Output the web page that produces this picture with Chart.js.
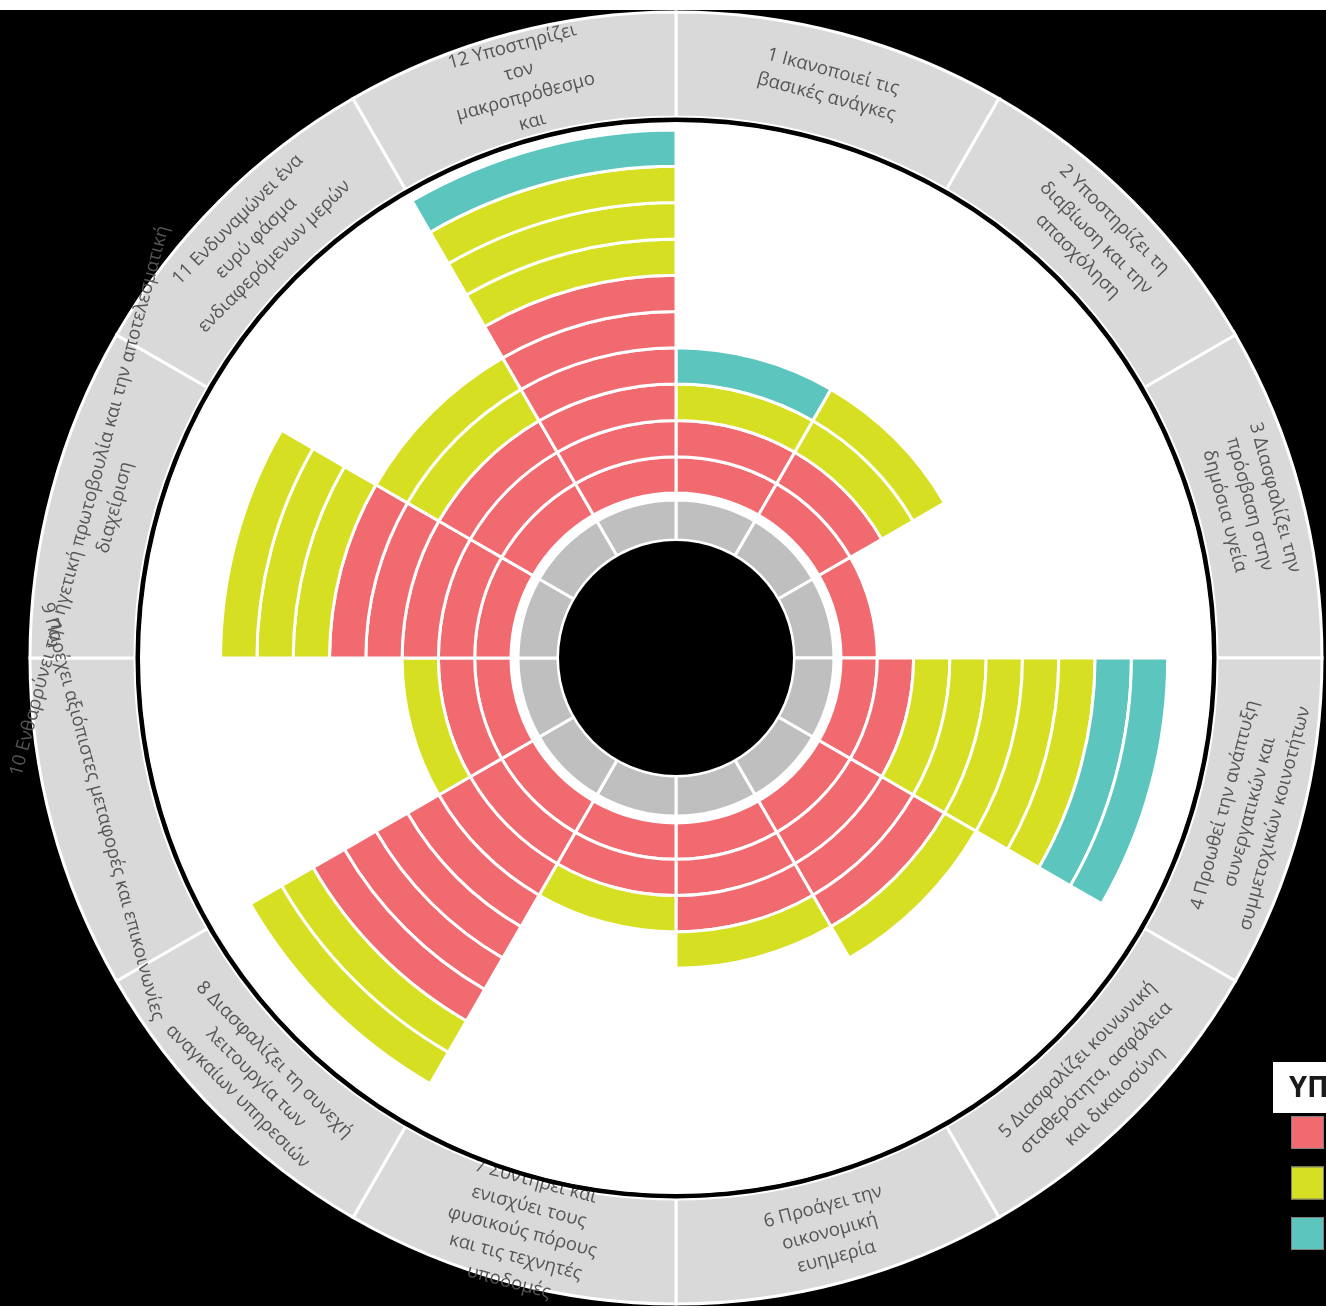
<!DOCTYPE html>
<html>
<head>
<meta charset="utf-8">
<script src="https://cdn.jsdelivr.net/npm/chart.js@4/dist/chart.umd.min.js"></script>
<style>
html,body{margin:0;padding:0;background:#fff;}
canvas{display:block;}
</style>
</head>
<body>
<canvas id="c" width="1326" height="1311"></canvas>
<script>
// ---- data ----
const sectorLabels = [
  ['1 Ικανοποιεί τις','βασικές ανάγκες'],
  ['2 Υποστηρίζει τη','διαβίωση και την','απασχόληση'],
  ['3 Διασφαλίζει την','πρόσβαση στην','δημόσια υγεία'],
  ['4 Προωθεί την ανάπτυξη','συνεργατικών και','συμμετοχικών κοινοτήτων'],
  ['5 Διασφαλίζει κοινωνική','σταθερότητα, ασφάλεια','και δικαιοσύνη'],
  ['6 Προάγει την','οικονομική','ευημερία'],
  ['7 Συντηρεί και','ενισχύει τους','φυσικούς πόρους','και τις τεχνητές','υποδομές'],
  ['8 Διασφαλίζει τη συνεχή','λειτουργία των','αναγκαίων υπηρεσιών'],
  ['9 Παρέχει αξιόπιστες μεταφορές και επικοινωνίες'],
  ['10 Ενθαρρύνει την ηγετική πρωτοβουλία και την αποτελεσματική','διαχείριση'],
  ['11 Ενδυναμώνει ένα','ευρύ φάσμα','ενδιαφερόμενων μερών'],
  ['12 Υποστηρίζει','τον','μακροπρόθεσμο','και']
];
const redLevels    = [2, 2, 1, 2, 4, 3, 2, 7, 2, 5, 3, 6];
const yellowLevels = [1, 2, 0, 5, 1, 1, 1, 2, 1, 3, 2, 3];
const cyanLevels   = [1, 0, 0, 2, 0, 0, 0, 0, 0, 0, 0, 1];
const legendTitle = 'ΥΠΟΜΝΗΜΑ';

// ---- styles ----
const RED = '#f06a70', YEL = '#d7df22', CYAN = '#5cc6be', BAND = '#d9d9d9', INNER = '#bfbfbf';
const NONE = 'rgba(0,0,0,0)';
const RING_W = 36.3;
const MAX_LEVEL = 10;
const n = sectorLabels.length;
const ones = sectorLabels.map(() => 1);

const datasets = [];
// outer label band
datasets.push({data: ones, backgroundColor: BAND, borderColor: '#ffffff', borderWidth: 3, hoverBorderWidth: 3, weight: 105, order: 1});
// spacer
datasets.push({data: [1], backgroundColor: NONE, borderWidth: 0, hoverBorderWidth: 0, weight: 13});
for (let k = MAX_LEVEL; k >= 1; k--) {
  const colors = redLevels.map((r, s) => {
    if (k <= r) return RED;
    if (k <= r + yellowLevels[s]) return YEL;
    if (k <= r + yellowLevels[s] + cyanLevels[s]) return CYAN;
    return NONE;
  });
  datasets.push({
    data: ones,
    backgroundColor: colors,
    borderColor: '#ffffff',
    borderWidth: colors.map(c => c === NONE ? 0 : 3),
    hoverBorderWidth: colors.map(c => c === NONE ? 0 : 3),
    weight: RING_W
  });
}
datasets.push({data: [1], backgroundColor: NONE, borderWidth: 0, hoverBorderWidth: 0, weight: 7});
datasets.push({data: ones, backgroundColor: INNER, borderColor: '#ffffff', borderWidth: 3, hoverBorderWidth: 3, weight: 40});

const bgPlugin = {
  id: 'bg',
  beforeDraw(chart) {
    const ctx = chart.ctx;
    ctx.save();
    ctx.fillStyle = '#ffffff';
    ctx.fillRect(0, 0, chart.width, chart.height);
    ctx.fillStyle = '#000000';
    ctx.fillRect(0, 10, chart.width, 1296);
    ctx.restore();
  },
  afterDatasetDraw(chart, args) {
    if (args.index !== 0) return;
    const ctx = chart.ctx;
    const arc = chart.getDatasetMeta(0).data[0];
    const cx = arc.x, cy = arc.y;
    ctx.save();
    ctx.fillStyle = '#555555';
    ctx.font = '18.5px "Open Sans", "Noto Sans", sans-serif';
    ctx.textAlign = 'center';
    ctx.textBaseline = 'middle';
    const rText = 594, lh = 26;
    sectorLabels.forEach((lines, s) => {
      const aDeg = (s + 0.5) * 360 / n;
      const a = aDeg * Math.PI / 180;
      const x = cx + rText * Math.sin(a), y = cy - rText * Math.cos(a);
      let rot = aDeg;
      if (aDeg > 90 && aDeg < 270) rot = aDeg - 180;
      ctx.save();
      ctx.translate(x, y);
      ctx.rotate(rot * Math.PI / 180);
      lines.forEach((t, i) => {
        ctx.fillText(t, 0, (i - (lines.length - 1) / 2) * lh);
      });
      ctx.restore();
    });
    // white disc and black outline
    ctx.beginPath();
    ctx.arc(cx, cy, 536, 0, Math.PI * 2);
    ctx.fillStyle = '#ffffff';
    ctx.fill();
    ctx.beginPath();
    ctx.arc(cx, cy, 538.5, 0, Math.PI * 2);
    ctx.strokeStyle = '#000000';
    ctx.lineWidth = 4;
    ctx.stroke();
    ctx.restore();
  },
  afterDraw(chart) {
    const ctx = chart.ctx;
    const arc = chart.getDatasetMeta(0).data[0];
    ctx.save();
    // black center
    ctx.beginPath();
    ctx.arc(arc.x, arc.y, 117, 0, Math.PI * 2);
    ctx.fillStyle = '#000000';
    ctx.fill();
    // legend (cut at the right edge)
    ctx.fillStyle = '#ffffff';
    ctx.fillRect(1273, 1062, 60, 51);
    ctx.fillStyle = '#1a1a1a';
    ctx.font = 'bold 29px "Open Sans", "Noto Sans", sans-serif';
    ctx.textAlign = 'left';
    ctx.textBaseline = 'alphabetic';
    ctx.fillText(legendTitle, 1289, 1097);
    [RED, YEL, CYAN].forEach((c, i) => {
      const y = 1116 + i * 50.5;
      ctx.fillStyle = c;
      ctx.fillRect(1291, y, 33, 33);
      ctx.strokeStyle = '#7f7f7f';
      ctx.lineWidth = 1;
      ctx.strokeRect(1291.5, y + 0.5, 32, 32);
    });
    ctx.restore();
  }
};

new Chart(document.getElementById('c'), {
  type: 'doughnut',
  data: {labels: sectorLabels.map(l => l.join(' ')), datasets},
  options: {
    responsive: false,
    devicePixelRatio: 1,
    animation: false,
    events: [],
    cutout: 118,
    rotation: 0,
    layout: {padding: {left: 28.5, right: 2.5, top: 10.5, bottom: 5.5}},
    plugins: {legend: {display: false}, tooltip: {enabled: false}},
    elements: {arc: {hoverOffset: 0, offset: 0, borderJoinStyle: 'miter'}}
  },
  plugins: [bgPlugin]
});
</script>
</body>
</html>
